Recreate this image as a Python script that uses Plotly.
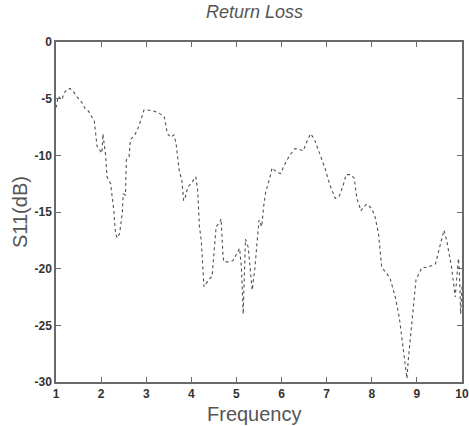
import plotly.graph_objects as go

freq = [1.0, 1.05, 1.13, 1.18, 1.24, 1.31, 1.39, 1.46, 1.57, 1.65, 1.72, 1.80, 1.85, 1.91, 1.97, 2.02, 2.04, 2.06, 2.10, 2.13,
        2.21, 2.28, 2.32, 2.36, 2.41, 2.47, 2.49, 2.54, 2.56, 2.62, 2.65, 2.73, 2.80, 2.88, 2.95, 3.03, 3.17, 3.29, 3.40, 3.47,
        3.55, 3.61, 3.66, 3.73, 3.79, 3.83, 3.86, 3.92, 3.99, 4.10, 4.14, 4.18, 4.22, 4.28, 4.33, 4.40, 4.46, 4.50, 4.55, 4.63,
        4.66, 4.70, 4.72, 4.81, 4.92, 4.99, 5.07, 5.11, 5.15, 5.17, 5.20, 5.26, 5.32, 5.35, 5.41, 5.48, 5.50, 5.56, 5.60, 5.65,
        5.74, 5.79, 5.89, 5.98, 6.07, 6.18, 6.30, 6.41, 6.48, 6.56, 6.64, 6.72, 6.85, 6.96, 7.07, 7.19, 7.28, 7.37, 7.43, 7.52,
        7.61, 7.67, 7.76, 7.81, 7.89, 8.00, 8.07, 8.15, 8.22, 8.33, 8.41, 8.52, 8.61, 8.70, 8.78, 8.81, 8.89, 8.98, 9.11, 9.22,
        9.41, 9.50, 9.60, 9.66, 9.77, 9.85, 9.92, 9.94, 9.97, 10.0]
s11 = [-5.8, -4.8, -5.1, -4.5, -4.2, -4.1, -4.4, -4.8, -5.3, -5.9, -6.1, -6.6, -7.0, -9.2, -9.5, -9.8, -8.1, -8.9, -10.0, -11.9,
       -12.5, -14.8, -16.9, -17.3, -16.9, -15.1, -13.4, -13.5, -10.4, -10.1, -8.6, -8.3, -7.8, -6.9, -6.0, -6.0, -6.1, -6.3, -6.6, -8.1,
       -8.4, -8.2, -8.9, -11.3, -12.2, -14.0, -13.8, -12.8, -12.5, -11.9, -13.1, -16.3, -17.5, -21.6, -21.3, -20.9, -20.7, -18.7, -16.3, -15.9,
       -15.6, -18.7, -19.4, -19.4, -19.3, -18.8, -18.2, -19.9, -24.0, -21.3, -17.4, -18.1, -20.7, -21.9, -19.9, -17.0, -15.7, -16.3, -14.6, -13.2,
       -12.0, -11.1, -11.5, -11.6, -10.8, -10.0, -9.4, -9.5, -9.6, -8.8, -8.1, -8.5, -10.0, -11.1, -12.6, -13.8, -13.6, -12.6, -11.7, -11.7,
       -12.0, -13.8, -14.9, -14.6, -14.3, -14.7, -15.4, -16.9, -19.9, -20.4, -20.9, -22.5, -24.3, -27.2, -29.7, -28.0, -24.6, -21.0, -19.9, -19.9,
       -19.6, -18.1, -16.6, -17.5, -19.9, -22.5, -19.1, -20.1, -24.0, -21.6]

x_ticks = [1, 2, 3, 4, 5, 6, 7, 8, 9, 10]
y_ticks = [0, -5, -10, -15, -20, -25, -30]
y_tick_labels = ["0", "-5", "-10", "-15", "-20", "-25", "-30"]

fig = go.Figure()
fig.add_trace(go.Scatter(x=freq, y=s11, mode="lines",
                         line=dict(color="#505050", width=1.1, dash="dot"),
                         showlegend=False, hoverinfo="skip"))

axis_common = dict(showgrid=False, zeroline=False, showline=True, linecolor="#6a6a6a", linewidth=1.5,
                   mirror="ticks", ticks="inside", ticklen=5, tickcolor="#6a6a6a", automargin=False,
                   tickfont=dict(family="Arial, Liberation Sans", size=12, color="#333333", weight="bold"))

title_font = dict(family="Arial, Liberation Sans", size=20, color="#555555")

fig.update_layout(
    width=469, height=426,
    margin=dict(l=56, r=7, t=42, b=44),
    paper_bgcolor="white", plot_bgcolor="white",
    hovermode=False,
    xaxis=dict(range=[1, 10], tickvals=x_ticks, ticktext=[str(v) for v in x_ticks], ticklabelstandoff=0,
               **axis_common),
    yaxis=dict(range=[-30, 0], tickvals=y_ticks, ticktext=y_tick_labels, ticklabelstandoff=0,
               **axis_common),
    annotations=[
        dict(text="<i>Return Loss</i>", xref="paper", yref="paper", x=0.49, y=1.0, yshift=30,
             xanchor="center", yanchor="middle", showarrow=False,
             font=dict(family="Arial, Liberation Sans", size=18, color="#555555")),
        dict(text="Frequency", xref="paper", yref="paper", x=0.49, y=0, yshift=-32,
             xanchor="center", yanchor="middle", showarrow=False, font=title_font),
        dict(text="S11(dB)", xref="paper", yref="paper", x=0, xshift=-36, y=0.5,
             xanchor="center", yanchor="middle", showarrow=False, textangle=-90, font=title_font),
    ],
)

fig.write_html("out.html", config={"displayModeBar": False},
               post_script="document.body.style.margin='0';document.body.style.overflow='hidden';")
